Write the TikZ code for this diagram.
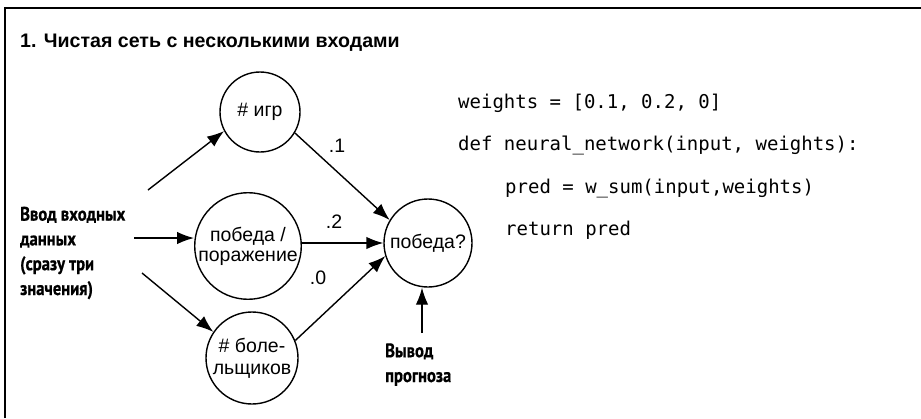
\documentclass[tikz,border=0pt]{standalone}
\usepackage{fontspec}
\setmainfont{Liberation Sans}
\newfontfamily\condfont[FakeStretch=0.85,FakeBold=0.6]{PT Sans}
\newfontfamily\codefont{DejaVu Sans Mono}
\usetikzlibrary{arrows.meta}
\begin{document}
\begin{tikzpicture}[x=1pt,y=-1pt,
  neuron/.style={circle,draw,line width=1.4pt,inner sep=0pt,align=center,
    font=\fontsize{19.5}{21}\selectfont},
  conn/.style={line width=1.4pt,-{Latex[length=17pt,width=12.5pt]}},
  wlabel/.style={font=\fontsize{19.5}{21}\selectfont},
  cond/.style={font=\condfont\bfseries\fontsize{19.5}{24.8}\selectfont,align=left,inner sep=0pt},
  code/.style={font=\codefont\fontsize{19}{21}\selectfont,inner sep=0pt,anchor=base west},
]
\useasboundingbox (0,0) rectangle (921,418);
\draw[line width=2.2pt] (5,418) -- (5,8) -- (921,8);
\node[anchor=base west,inner sep=0pt,font=\bfseries\fontsize{19.6}{22}\selectfont] (title) at (20,47) {1. Чистая сеть с несколькими входами};

\node[neuron,minimum size=80pt] (games) at (260,112) {\# игр};
\node[neuron,minimum size=100pt] (wl) at (248,246) {победа /\\[-1pt]поражение};
\node[neuron,minimum size=92pt] (fans) at (252,358) {\# боле-\\[1pt]льщиков};
\node[neuron,minimum size=88pt] (win) at (428,243) {победа?};

\node[cond,anchor=base west] (inp) at (20,295) {Ввод входных\\данных\\(сразу три\\значения)};
\node[cond,anchor=base west] (out) at (385,382) {Вывод\\прогноза};

\coordinate (s1) at (148,190);
\coordinate (s2) at (134,238);
\coordinate (s3) at (142,273);
\draw[conn] (s1) -- (games.208);
\draw[conn] (s2) -- (wl.west |- s2);
\draw[conn] (s3) -- (fans.146);
\draw[conn] (games.-31) -- (win.149);
\draw[conn] (wl.east |- win.west) -- (win.west);
\draw[conn] (fans.22) -- (win.197);
\coordinate (o1) at (422,333);
\draw[conn] (o1) -- (win.south -| o1);

\node[wlabel] (w1) at (337,146) {.1};
\node[wlabel] (w2) at (334,222) {.2};
\node[wlabel] (w3) at (318,278) {.0};

\node[code] (c1) at (458,108) {weights = [0.1, 0.2, 0]};
\node[code] (c2) at (458,150.5) {def neural\_network(input, weights):};
\node[code] (c3) at (505,193) {pred = w\_sum(input,weights)};
\node[code] (c4) at (505,235.5) {return pred};
\end{tikzpicture}
\end{document}
